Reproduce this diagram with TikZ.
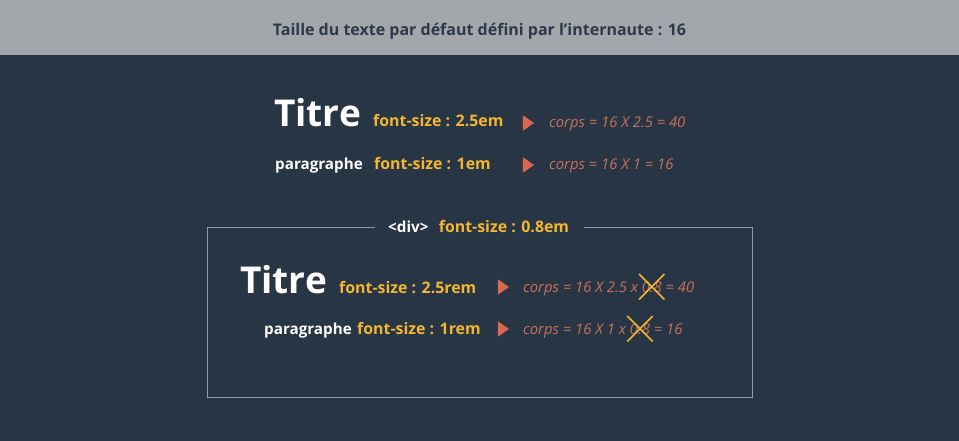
\documentclass[tikz,border=0pt]{standalone}
\usepackage{fontspec}
\setmainfont{Open Sans}
\usepackage{tikz}
\usetikzlibrary{positioning,shapes.geometric}
\definecolor{fond}{HTML}{283545}
\definecolor{bande}{HTML}{A3A6AB}
\definecolor{encre}{HTML}{2E3A4A}
\definecolor{jaune}{HTML}{F2B630}
\definecolor{brique}{HTML}{C9715C}
\definecolor{fleche}{HTML}{D9694E}
\definecolor{cadre}{HTML}{8C99AA}
\tikzset{
  titre/.style={text=white, font=\fontsize{37}{44}\selectfont\bfseries, inner sep=0pt, anchor=base west},
  para/.style={text=white, font=\fontsize{15.2}{18}\selectfont\bfseries, inner sep=0pt, anchor=base west},
  taille/.style={text=jaune, font=\fontsize{15.9}{19}\selectfont\bfseries, inner sep=0pt, anchor=base west},
  calcul/.style={text=brique, font=\fontsize{14.8}{18}\selectfont\itshape, inner sep=0pt, anchor=base west},
  puce/.style={fill=fleche, isosceles triangle, isosceles triangle apex angle=70, inner sep=0pt, minimum height=11pt, minimum width=13pt},
  barre/.style={draw=jaune, line width=1.6pt},
}
\begin{document}
\begin{tikzpicture}[x=1pt, y=-1pt]
   \useasboundingbox (0,0) rectangle (959,441);
   \fill[fond] (0,0) rectangle (959,441);
   \fill[bande] (0,0) rectangle (959,55);
   \node[text=encre, font=\fontsize{16}{18}\selectfont\bfseries] (entete) at (479.5,31) {Taille du texte par défaut défini par l’internaute : 16};

   \node[titre] (t1) at (274,127) {Titre};
   \node[taille] (f1) at (373,127) {font-size : 2.5em};
   \node[puce] (p1) at (527,123) {};
   \node[calcul] (c1) at (549,128) {corps = 16 X 2.5 = 40};
   \node[para] (g1) at (275,170) {paragraphe};
   \node[taille] (f2) at (374,170) {font-size : 1em};
   \node[puce] (p2) at (527,165) {};
   \node[calcul] (c2) at (549,170) {corps = 16 X 1 = 16};

   \draw[cadre, line width=1pt] (207,227) rectangle (752,397);
   \node[fill=fond, minimum width=209pt, minimum height=16pt, inner sep=0pt] (div) at (479.5,227) {};
   \node[para] (d1) at (388,232) {<div>};
   \node[taille, right=10pt of d1.base east, anchor=base west] (d2) {font-size : 0.8em};

   \node[titre] (t2) at (240,293) {Titre};
   \node[taille] (f3) at (339,293) {font-size : 2.5rem};
   \node[puce] (p3) at (502,287) {};
   \node[calcul] (c3a) at (523,292) {corps = 16 X 2.5 x};
   \node[calcul, right=3.5pt of c3a.base east, anchor=base west] (c3b) {0.8};
   \node[calcul, right=3.5pt of c3b.base east, anchor=base west] (c3c) {= 40};
   \node[para] (g2) at (264,334) {paragraphe};
   \node[taille] (f4) at (357,334) {font-size : 1rem};
   \node[puce] (p4) at (502,329) {};
   \node[calcul] (c4a) at (523,334) {corps = 16 X 1 x};
   \node[calcul, right=3.5pt of c4a.base east, anchor=base west] (c4b) {0.8};
   \node[calcul, right=3.5pt of c4b.base east, anchor=base west] (c4c) {= 16};

   \node[minimum size=25pt, inner sep=0pt] (x1) at (c3b.center) {};
   \node[minimum size=25pt, inner sep=0pt] (x2) at (c4b.center) {};
   \draw[barre] (x1.north west) -- (x1.south east);
   \draw[barre] (x1.south west) -- (x1.north east);
   \draw[barre] (x2.north west) -- (x2.south east);
   \draw[barre] (x2.south west) -- (x2.north east);
\end{tikzpicture}
\end{document}
